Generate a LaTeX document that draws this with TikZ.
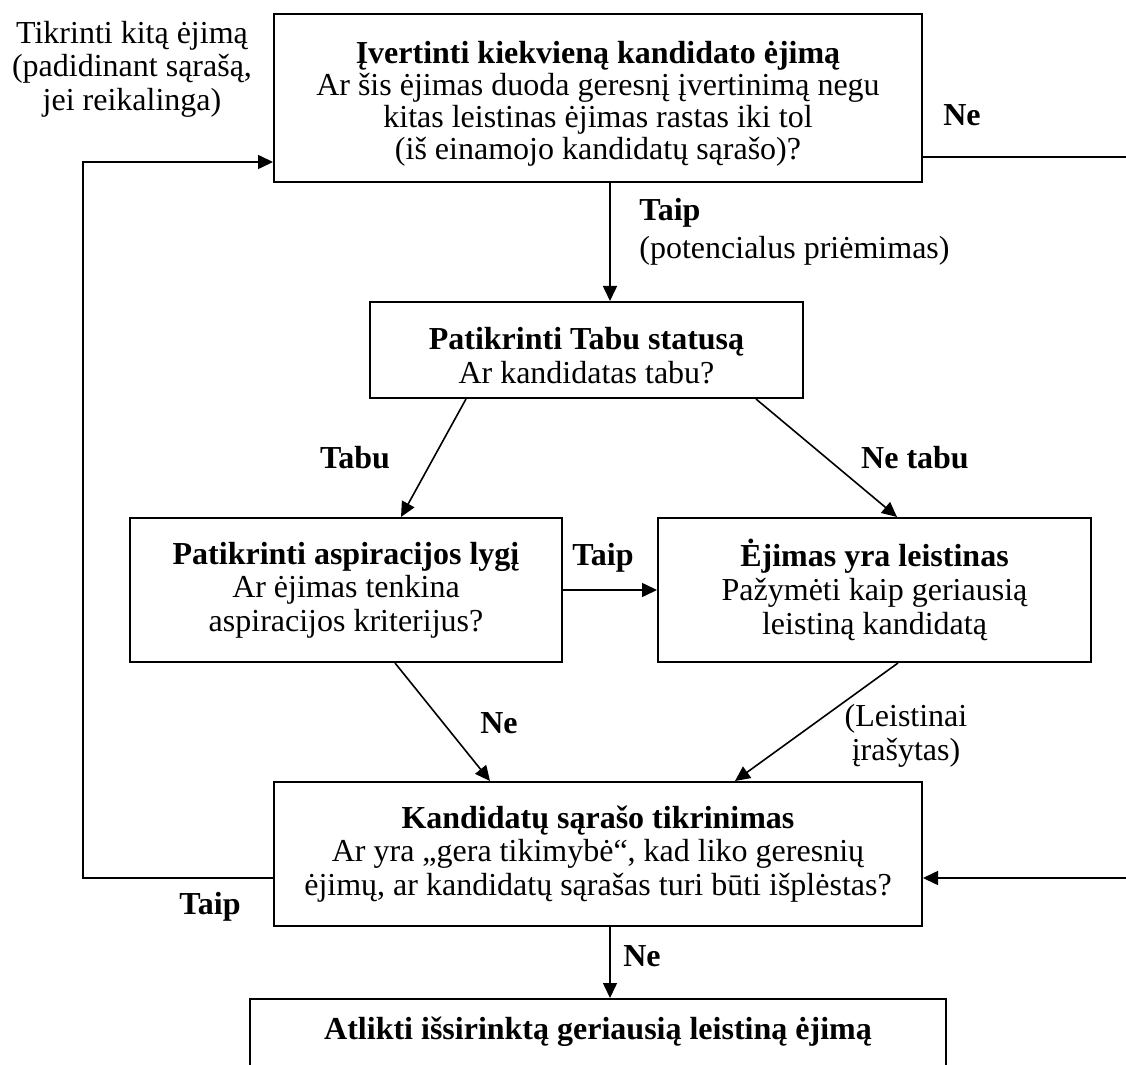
\documentclass[tikz,border=0pt]{standalone}
\usepackage{fontspec}
\setmainfont{Liberation Serif}
\usetikzlibrary{arrows.meta}
\newcommand{\boxlw}{1pt}
\newcommand{\linelw}{0.8pt}
\newcommand{\txtfont}{\fontsize{16}{16.8}\selectfont}
\newcommand{\lowstrut}{\rule{0pt}{17pt}}

\begin{document}
\begin{tikzpicture}[x=0.5pt, y=-0.5pt, >={Triangle[length=7.5pt, width=7pt]},
    box/.style={draw, line width=\boxlw, align=center, inner sep=0pt, font=\txtfont},
    lbl/.style={align=center, inner sep=0pt, font=\txtfont},
    lblb/.style={lbl, font=\txtfont\bfseries},
    conn/.style={line width=\linelw}]
    \useasboundingbox (0,0) rectangle (1126,1065);

    \coordinate (loopL) at (83,500);
    \coordinate (neEnd) at (1126,157);
    \coordinate (kandIn) at (1126,878);

    % boxes
    \node[box, minimum width=324pt, minimum height=84pt, font=\fontsize{16}{16}\selectfont] (evaluate) at (598,98)
        {\lowstrut\textbf{Įvertinti kiekvieną kandidato ėjimą}\\Ar šis ėjimas duoda geresnį įvertinimą negu\\kitas leistinas ėjimas rastas iki tol\\(iš einamojo kandidatų sąrašo)?};
    \node[box, minimum width=216.5pt, minimum height=48pt] (tabu) at (586.5,350)
        {\lowstrut\textbf{Patikrinti Tabu statusą}\\Ar kandidatas tabu?};
    \node[box, minimum width=216pt, minimum height=72pt] (aspir) at (346,590)
        {\textbf{Patikrinti aspiracijos lygį}\\Ar ėjimas tenkina\\aspiracijos kriterijus?};
    \node[box, minimum width=216.5pt, minimum height=72pt] (ejimas) at (874.5,590)
        {\textbf{Ėjimas yra leistinas}\\Pažymėti kaip geriausią\\leistiną kandidatą};
    \node[box, minimum width=324pt, minimum height=72pt] (kand) at (598,854)
        {\textbf{Kandidatų sąrašo tikrinimas}\\Ar yra „gera tikimybė“, kad liko geresnių\\ėjimų, ar kandidatų sąrašas turi būti išplėstas?};
    \node[box, anchor=north, minimum width=348pt, inner ysep=9pt, text height=11pt, text depth=45pt] (atlikti) at (598,998)
        {\textbf{Atlikti išsirinktą geriausią leistiną ėjimą}};

    % arrows
    \draw[conn, ->] ([xshift=6pt]evaluate.south) -- ([xshift=11.75pt]tabu.north);
    \draw[conn, ->] ([xshift=-60.25pt]tabu.south) -- ([xshift=27.5pt]aspir.north);
    \draw[conn, ->] ([xshift=84.75pt]tabu.south) -- ([xshift=11.25pt]ejimas.north);
    \draw[conn, ->] (aspir.east) -- (ejimas.west);
    \draw[conn, ->] ([xshift=24.5pt]aspir.south) -- ([xshift=-54pt]kand.north);
    \draw[conn, ->] ([xshift=11.75pt]ejimas.south) -- ([xshift=68.5pt]kand.north);
    \draw[conn, ->] ([xshift=6pt]kand.south) -- ([xshift=6pt]atlikti.north);
    \draw[conn, ->] ([yshift=-12pt]kand.west) -| (loopL) |- ([yshift=-32pt]evaluate.west);
    \draw[conn] ([yshift=-29.5pt]evaluate.east) -- (neEnd);
    \draw[conn, ->] (kandIn) -- ([yshift=-12pt]kand.east);

    % labels
    \node[lbl] (nextMove) at (132,69) {Tikrinti kitą ėjimą\\(padidinant sąrašą,\\jei reikalinga)};
    \node[lblb] (neTop) at (962,115) {Ne};
    \node[lbl, align=left, anchor=west] (taipAccept) at (639,232) {\textbf{Taip}\\[2pt](potencialus priėmimas)};
    \node[lblb] (tabuLbl) at (355,458) {Tabu};
    \node[lblb] (neTabuLbl) at (915,458) {Ne tabu};
    \node[lblb] (taipMid) at (603,558) {Taip};
    \node[lblb] (neMid) at (499,723) {Ne};
    \node[lbl] (leistLbl) at (906,736) {(Leistinai\\įrašytas)};
    \node[lblb] (taipLoop) at (210,907) {Taip};
    \node[lblb] (neBottom) at (642,956) {Ne};
\end{tikzpicture}
\end{document}
